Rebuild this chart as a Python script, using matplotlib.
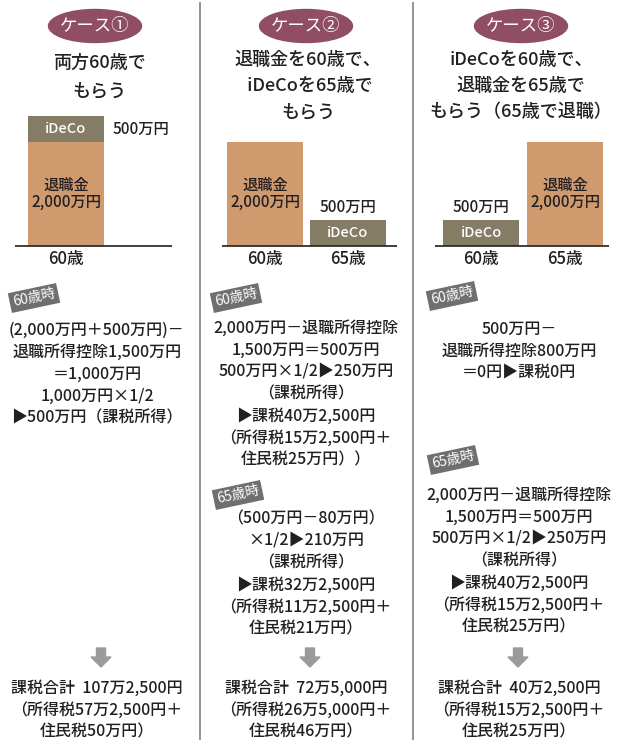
import matplotlib
matplotlib.use("Agg")
import matplotlib.pyplot as plt
from matplotlib.patches import Ellipse, Polygon

plt.rcParams['font.family'] = ['Noto Sans CJK JP', 'DejaVu Sans']

# --- data ---
case_names = ['ケース①', 'ケース②', 'ケース③']
titles = [
    ['両方60歳で', 'もらう'],
    ['退職金を60歳で、', ' iDeCoを65歳で', 'もらう'],
    ['iDeCoを60歳で、', '退職金を65歳で', 'もらう（65歳で退職）'],
]
ages = ['60歳', '65歳']
retire_amt = 2000   # 万円
ideco_amt = 500     # 万円
retire_age = [0, 0, 1]   # index into ages
ideco_age = [0, 1, 0]

blocks = [
    [('60歳時', ['(2,000万円＋500万円)－', '退職所得控除1,500万円', '＝1,000万円',
                 '1,000万円×1/2', '▶500万円（課税所得）'])],
    [('60歳時', ['2,000万円－退職所得控除', '1,500万円＝500万円', '500万円×1/2▶250万円',
                 '（課税所得）', '▶課税40万2,500円', '（所得税15万2,500円＋', '住民税25万円））']),
     ('65歳時', ['（500万円－80万円）', '×1/2▶210万円', '（課税所得）',
                 '▶課税32万2,500円', '（所得税11万2,500円＋', '住民税21万円）'])],
    [('60歳時', ['500万円－', '退職所得控除800万円', '＝0円▶課税0円']),
     ('65歳時', ['2,000万円－退職所得控除', '1,500万円＝500万円', '500万円×1/2▶250万円',
                 '（課税所得）', '▶課税40万2,500円', '（所得税15万2,500円＋', '住民税25万円）'])],
]
totals = [
    ['課税合計  107万2,500円', '（所得税57万2,500円＋', '住民税50万円）'],
    ['課税合計  72万5,000円', '（所得税26万5,000円＋', '住民税46万円）'],
    ['課税合計  40万2,500円', '（所得税15万2,500円＋', '住民税25万円）'],
]

# --- layout ---
W, H = 619, 740
centers = [97, 306, 519]
pill_x = [95, 306, 521]
title_y = [(63, 28), (60, 26), (60, 26)]
bar_x = [[66, 66], [265, 348], [481, 565]]
base_span = [(15, 172), (222, 397), (435, 609)]
base_y = 246
px_per_man = 104 / 2000
tag_pos = [[(34, 298)], [(236, 298), (238, 495)], [(452, 296), (453, 460)]]
block_y = [[330], [328, 519], [329, 495]]
line_step = 22

c_text = '#231f20'
c_pill = '#8f4e66'
c_ideco = '#857c66'
c_retire = '#cf9a6e'
c_tag = '#6f6f6f'
c_arrow = '#9b9b9b'
c_div = '#8a8a8a'

fig = plt.figure(figsize=(W / 100, H / 100), dpi=100)
ax = fig.add_axes([0, 0, 1, 1])
ax.set_xlim(0, W)
ax.set_ylim(H, 0)
ax.axis('off')

bx = fig.add_axes([0, (H - base_y) / H, 1, base_y / H])
bx.set_xlim(0, W)
bx.set_ylim(0, base_y / px_per_man)
bx.axis('off')
bx.patch.set_alpha(0)

# column dividers
for x in [200, 413]:
    ax.plot([x, x], [3, H], color=c_div, lw=1.3)

for i in range(3):
    cx = centers[i]
    # header pill
    ax.add_patch(Ellipse((pill_x[i], 26), 93, 33, color=c_pill))
    ax.text(pill_x[i], 26, case_names[i], color='white', fontsize=12.5,
            ha='center', va='center')
    ty, ts = title_y[i]
    for k, line in enumerate(titles[i]):
        ax.text(cx + 2, ty + k * ts, line, color=c_text, fontsize=13,
                ha='center', va='center', fontweight='medium')

    # bars
    rx = bar_x[i][retire_age[i]]
    ix = bar_x[i][ideco_age[i]]
    bx.bar(rx, retire_amt, width=76, color=c_retire)
    ibottom = retire_amt if rx == ix else 0
    bx.bar(ix, ideco_amt, bottom=ibottom, width=76, color=c_ideco)
    bx.text(rx, retire_amt / 2, '退職金\n2,000万円', color=c_text, fontsize=11,
            ha='center', va='center', linespacing=1.0, fontweight='medium')
    bx.text(ix, ibottom + ideco_amt / 2, 'iDeCo', color='white', fontsize=10.5,
            ha='center', va='center', fontweight='medium')
    if rx == ix:
        bx.annotate('500万円', (ix + 38, ibottom + ideco_amt / 2), xytext=(6, 0),
                    textcoords='offset points', color=c_text, fontsize=11,
                    ha='left', va='center', fontweight='medium')
    else:
        bx.annotate('500万円', (ix, ideco_amt), xytext=(0, 9),
                    textcoords='offset points', color=c_text, fontsize=11,
                    ha='center', va='center', fontweight='medium')
    x0, x1 = base_span[i]
    bx.hlines(0, x0, x1, color=c_text, lw=1.2, clip_on=False)
    used = sorted(set([retire_age[i], ideco_age[i]]))
    for a in used:
        ax.text(bar_x[i][a], 259, ages[a], color=c_text, fontsize=12,
                ha='center', va='center', fontweight='medium')

    # text blocks
    for (tag, lines), (tx, tyy), by in zip(blocks[i], tag_pos[i], block_y[i]):
        ax.text(tx, tyy, tag, color='white', fontsize=10, rotation=12,
                ha='center', va='center',
                bbox=dict(boxstyle='square,pad=0.22', fc=c_tag, ec='none'))
        for k, line in enumerate(lines):
            ax.text(cx, by + k * line_step, line, color=c_text, fontsize=11.5,
                    ha='center', va='center', fontweight='medium')

    # arrow
    ax_x = [101, 310, 518][i]
    ax.add_patch(Polygon([(ax_x - 4.5, 648), (ax_x + 4.5, 648), (ax_x + 4.5, 657),
                          (ax_x + 10, 657), (ax_x, 667), (ax_x - 10, 657),
                          (ax_x - 4.5, 657)], closed=True, color=c_arrow))
    for k, line in enumerate(totals[i]):
        ax.text(cx, 688 + k * 22, line, color=c_text, fontsize=11.5,
                ha='center', va='center', fontweight='medium')

fig.savefig('out.png', dpi=100)
